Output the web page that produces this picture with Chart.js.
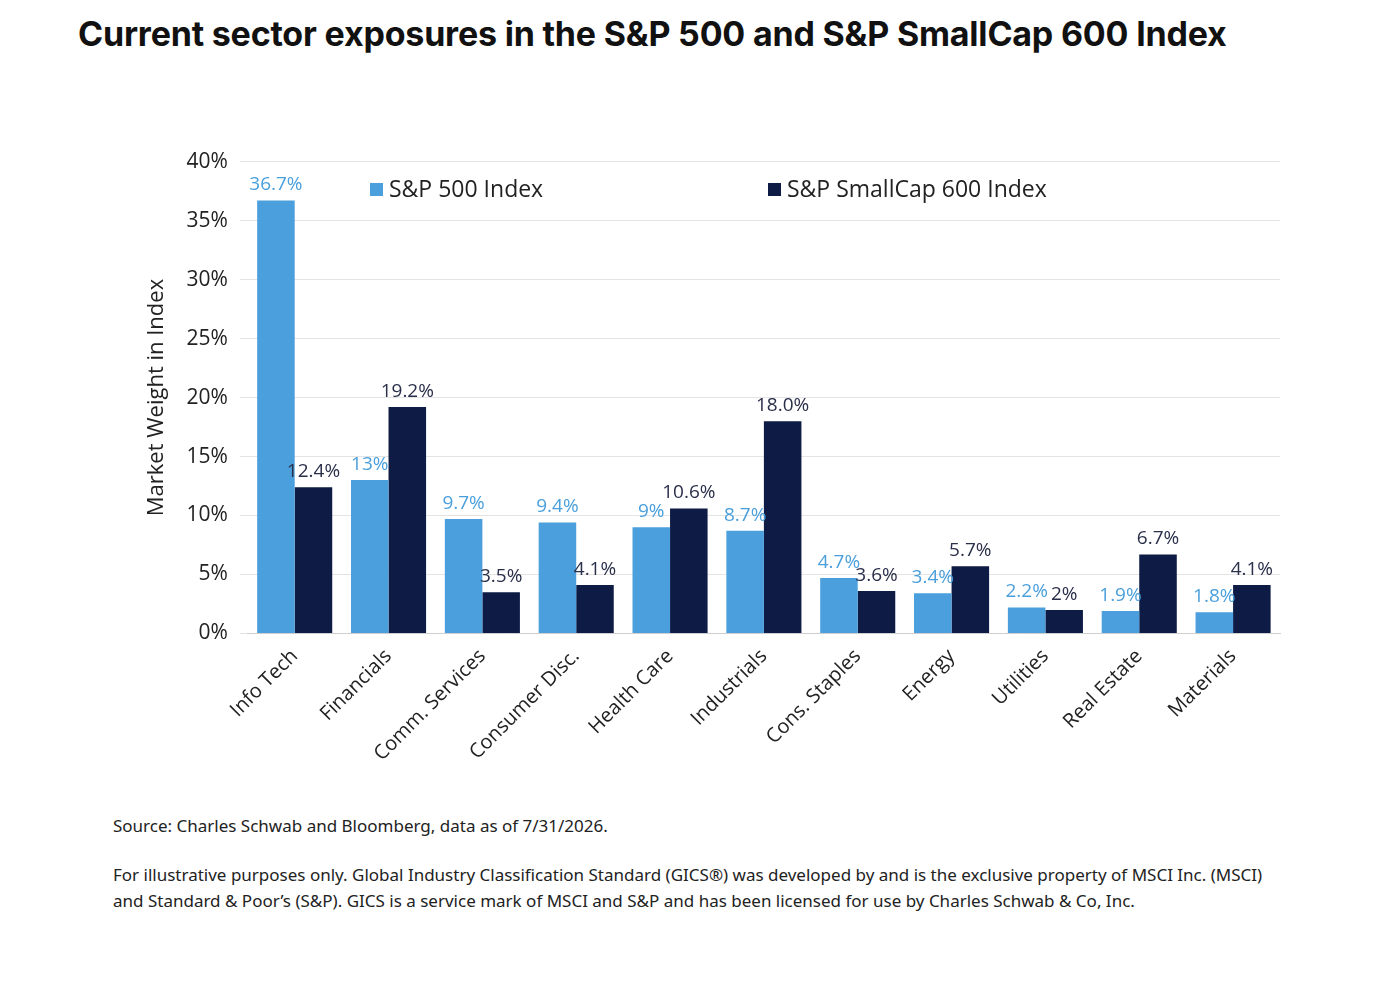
<!DOCTYPE html>
<html>
<head>
<meta charset="utf-8">
<script src="https://cdn.jsdelivr.net/npm/chart.js@4"></script>
<style>
  body { margin: 0; background: #fff; font-family: "Open Sans", "Noto Sans", sans-serif; }
  #title { position: absolute; left: 78px; top: 13px; font: bold 34px "Inter", "Roboto", sans-serif; color: #111; letter-spacing: -0.2px; }
  #wrap { position: absolute; left: 140px; top: 137px; width: 1150px; height: 632px; }
  .leg { position: absolute; top: 172px; font: 23px "Open Sans", sans-serif; color: #222; }
  .leg i { display: inline-block; width: 13px; height: 13px; margin-right: 6px; vertical-align: 1px; }
  .note { position: absolute; left: 113px; font: 17px "Noto Sans", sans-serif; color: #222; line-height: 26px; }
</style>
</head>
<body>
<div id="title">Current sector exposures in the S&amp;P 500 and S&amp;P SmallCap 600 Index</div>
<div id="wrap"><canvas id="c"></canvas></div>
<div class="leg" style="left:370px"><i style="background:#4a9fdc"></i>S&amp;P 500 Index</div>
<div class="leg" style="left:768px"><i style="background:#0d1b45"></i>S&amp;P SmallCap 600 Index</div>
<div class="note" style="top:813px">Source: Charles Schwab and Bloomberg, data as of 7/31/2026.</div>
<div class="note" style="top:862px">For illustrative purposes only. Global Industry Classification Standard (GICS®) was developed by and is the exclusive property of MSCI Inc. (MSCI)<br>and Standard &amp; Poor’s (S&amp;P). GICS is a service mark of MSCI and S&amp;P and has been licensed for use by Charles Schwab &amp; Co, Inc.</div>
<script>
const categories = ["Info Tech", "Financials", "Comm. Services", "Consumer Disc.", "Health Care", "Industrials", "Cons. Staples", "Energy", "Utilities", "Real Estate", "Materials"];
const sp500 = [36.7, 13, 9.7, 9.4, 9, 8.7, 4.7, 3.4, 2.2, 1.9, 1.8];
const sp600 = [12.4, 19.2, 3.5, 4.1, 10.6, 18.0, 3.6, 5.7, 2, 6.7, 4.1];
const sp500Labels = ["36.7%", "13%", "9.7%", "9.4%", "9%", "8.7%", "4.7%", "3.4%", "2.2%", "1.9%", "1.8%"];
const sp600Labels = ["12.4%", "19.2%", "3.5%", "4.1%", "10.6%", "18.0%", "3.6%", "5.7%", "2%", "6.7%", "4.1%"];

const labelPlugin = {
  id: "barLabels",
  afterDatasetsDraw(chart) {
    const ctx = chart.ctx;
    const texts = [sp500Labels, sp600Labels];
    const colors = ["#4a9fdc", "#2a2f4a"];
    ctx.save();
    ctx.font = "19px 'Open Sans', sans-serif";
    ctx.textAlign = "center";
    ctx.textBaseline = "bottom";
    chart.data.datasets.forEach((ds, i) => {
      chart.getDatasetMeta(i).data.forEach((bar, j) => {
        ctx.fillStyle = colors[i];
        ctx.fillText(texts[i][j], bar.x, bar.y - 6);
      });
    });
    ctx.restore();
  }
};

new Chart(document.getElementById("c"), {
  type: "bar",
  data: {
    labels: categories,
    datasets: [
      { label: "S&P 500 Index", data: sp500, backgroundColor: "#4a9fdc" },
      { label: "S&P SmallCap 600 Index", data: sp600, backgroundColor: "#0d1b45" }
    ]
  },
  options: {
    responsive: true,
    maintainAspectRatio: false,
    animation: false,
    datasets: { bar: { categoryPercentage: 0.8, barPercentage: 1.0 } },
    layout: { padding: { top: 8, right: 10 } },
    plugins: { legend: { display: false }, tooltip: { enabled: false } },
    scales: {
      x: {
        grid: { display: false },
        border: { color: "#cfcfcf" },
        ticks: { color: "#222", font: { size: 20, family: "Open Sans" }, maxRotation: 45, minRotation: 45 }
      },
      y: {
        min: 0, max: 40,
        ticks: { stepSize: 5, color: "#222", font: { size: 21, family: "Open Sans" }, callback: v => v + "%", padding: 12 },
        grid: { color: "#e4e4e4" },
        border: { display: false },
        title: { display: true, text: "Market Weight in Index", color: "#222", font: { size: 22, family: "Open Sans" } }
      }
    }
  },
  plugins: [labelPlugin]
});
</script>
</body>
</html>
